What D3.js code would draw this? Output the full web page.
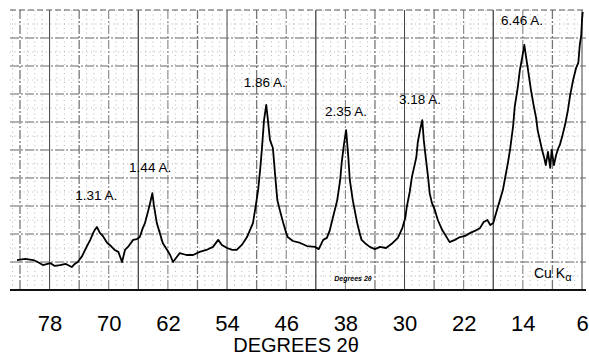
<!DOCTYPE html>
<html>
<head>
<meta charset="utf-8">
<script src="https://cdn.jsdelivr.net/npm/d3@7"></script>
<style>
  body { margin: 0; background: #fff; }
  svg { display: block; font-family: "Liberation Sans", Arial, sans-serif; }
</style>
</head>
<body>
<script>
// diffractometer trace (2-theta in degrees, intensity in grid units)
const twoTheta = [
  82.4, 81.3, 80.2, 79.6, 78.9, 77.9, 77.3, 76.6, 75.8, 75.0, 74.6, 74.2, 73.6, 73.2, 72.8, 72.5,
  72.1, 71.9, 71.6, 71.2, 70.8, 70.2, 69.7, 69.2, 68.7, 68.2, 67.8, 67.3, 66.7, 66.2, 65.8, 65.4,
  65.1, 64.7, 64.4, 64.1, 63.9, 63.5, 63.1, 62.7, 62.1, 61.7, 61.3, 60.9, 60.4, 59.5, 58.6, 57.7,
  56.8, 55.9, 55.2, 54.7, 54.0, 53.3, 52.7, 52.0, 51.3, 50.9, 50.5, 50.1, 49.8, 49.5, 49.3, 49.0,
  48.7, 48.5, 48.2, 47.8, 47.5, 47.2, 46.8, 46.4, 46.0, 45.8, 45.1, 44.1, 43.2, 42.1, 41.6, 41.0,
  40.5, 40.1, 39.7, 39.1, 38.7, 38.5, 38.2, 37.9, 37.6, 37.4, 37.0, 36.4, 36.0, 35.8, 35.2, 34.7,
  34.0, 33.3, 32.5, 31.6, 30.9, 30.3, 29.9, 29.7, 29.3, 29.0, 28.7, 28.4, 28.2, 27.9, 27.6, 27.4,
  27.2, 26.8, 26.6, 26.3, 25.9, 25.5, 24.9, 24.4, 23.9, 23.2, 22.5, 21.8, 21.1, 20.5, 19.8, 19.3,
  18.8, 18.4, 18.0, 17.5, 17.1, 16.7, 16.4, 16.0, 15.7, 15.3, 15.1, 14.7, 14.4, 14.1, 13.8, 13.6,
  13.3, 12.9, 12.6, 12.2, 12.0, 11.7, 11.4, 11.1, 10.9, 10.6, 10.3, 10.1, 9.8, 9.5, 9.2, 9.0,
  8.7, 8.3, 7.9, 7.6, 7.2, 6.8, 6.5, 6.3, 6.1, 6.0, 5.9
];
const intensity = [
  1.07, 1.11, 1.07, 1.00, 0.89, 0.96, 0.86, 0.89, 0.93, 0.82, 0.93, 1.00, 1.21, 1.43, 1.64, 1.79,
  2.04, 2.14, 2.25, 2.04, 1.93, 1.68, 1.57, 1.43, 1.36, 1.00, 1.43, 1.57, 1.79, 1.82, 1.89, 2.21,
  2.39, 2.79, 3.11, 3.46, 3.04, 2.39, 2.04, 1.68, 1.43, 1.25, 1.00, 1.14, 1.32, 1.25, 1.25, 1.36,
  1.43, 1.54, 1.79, 1.61, 1.50, 1.43, 1.43, 1.61, 1.89, 2.14, 2.39, 3.04, 3.57, 4.36, 5.00, 6.07,
  6.61, 6.14, 5.36, 5.07, 4.11, 3.21, 2.79, 2.39, 2.04, 1.89, 1.75, 1.68, 1.57, 1.54, 1.46, 1.79,
  1.86, 2.14, 2.57, 3.21, 3.93, 4.54, 5.18, 5.71, 4.75, 3.93, 3.21, 2.39, 1.96, 1.79, 1.64, 1.54,
  1.46, 1.54, 1.50, 1.68, 1.86, 2.21, 2.57, 2.96, 3.50, 4.04, 4.39, 4.75, 5.29, 5.71, 6.07, 5.36,
  4.89, 4.00, 3.46, 3.11, 2.86, 2.50, 2.14, 1.93, 1.71, 1.79, 1.89, 1.93, 2.04, 2.11, 2.21, 2.43,
  2.50, 2.32, 2.39, 2.86, 3.21, 3.57, 4.00, 4.57, 5.07, 5.89, 6.54, 7.21, 7.86, 8.29, 8.75, 8.39,
  7.86, 7.14, 6.68, 6.14, 5.71, 5.36, 5.00, 4.71, 4.46, 4.93, 4.36, 5.00, 4.46, 4.82, 5.07, 5.18,
  5.46, 5.89, 6.43, 6.96, 7.50, 7.93, 8.11, 8.75, 9.11, 9.64, 9.93
];

// peak annotations: d-spacing, where the label sits (2-theta, grid level)
const peakLabels = ["1.31 A.", "1.44 A.", "1.86 A.", "2.35 A.", "3.18 A.", "6.46 A."];
const labelTheta = [71.7, 64.4, 48.9, 37.9, 27.9, 14.1];
const labelLevel = [3.2, 4.2, 7.25, 6.2, 6.65, 9.45];

const tickValues = [78, 70, 62, 54, 46, 38, 30, 22, 14, 6];

const width = 589, height = 356;
const svg = d3.select("body").append("svg")
  .attr("width", width).attr("height", height);

const x = d3.scaleLinear().domain([82, 6]).range([20, 582]);
const y = d3.scaleLinear().domain([0, 10]).range([290, 10]);
const left = 10, right = 586;
const thetaMax = x.invert(left), thetaMin = x.invert(right);

const grid = svg.append("g");

// minor lines: every degree / half unit, dotted
grid.selectAll(".vminor")
  .data(d3.range(Math.ceil(thetaMin), Math.floor(thetaMax) + 1).filter(d => (d - 2) % 4 !== 0))
  .join("line")
  .attr("x1", d => x(d)).attr("x2", d => x(d))
  .attr("y1", y(10)).attr("y2", y(0))
  .attr("stroke", "#999").attr("stroke-width", 0.7)
  .attr("stroke-dasharray", "1,3.5");

grid.selectAll(".hminor")
  .data(d3.range(0.5, 10, 1))
  .join("line")
  .attr("x1", left).attr("x2", right)
  .attr("y1", d => y(d)).attr("y2", d => y(d))
  .attr("stroke", "#999").attr("stroke-width", 0.7)
  .attr("stroke-dasharray", "1,3.5");

// major lines: every 4 degrees / every unit
grid.selectAll(".vmajor")
  .data(d3.range(6, 83, 4))
  .join("line")
  .attr("x1", d => x(d)).attr("x2", d => x(d))
  .attr("y1", y(10)).attr("y2", y(0))
  .attr("stroke", (d, i) => i % 3 === 0 ? "#444" : "#777")
  .attr("stroke-width", (d, i) => i % 2 ? 1.3 : 1)
  .attr("stroke-dasharray", (d, i) => i % 3 === 0 ? null : "9,2,2,2");

grid.selectAll(".hmajor")
  .data(d3.range(1, 10))
  .join("line")
  .attr("x1", left).attr("x2", right)
  .attr("y1", d => y(d)).attr("y2", d => y(d))
  .attr("stroke", "#666").attr("stroke-width", 1)
  .attr("stroke-dasharray", "9,2,2,2");

grid.append("line")
  .attr("x1", left).attr("x2", right).attr("y1", y(10)).attr("y2", y(10))
  .attr("stroke", "#555").attr("stroke-width", 1).attr("stroke-dasharray", "6,3");

grid.append("line")
  .attr("x1", left).attr("x2", right).attr("y1", y(0)).attr("y2", y(0))
  .attr("stroke", "#111").attr("stroke-width", 2);

// the trace
const pts = twoTheta.map((t, i) => [t, intensity[i]]);
const line = d3.line().x(d => x(d[0])).y(d => y(d[1]));
svg.append("path")
  .datum(pts)
  .attr("d", line)
  .attr("fill", "none")
  .attr("stroke", "#000")
  .attr("stroke-width", 1.8)
  .attr("stroke-linejoin", "round");

// peak labels
svg.append("g").selectAll("text")
  .data(peakLabels)
  .join("text")
  .attr("x", (d, i) => x(labelTheta[i]))
  .attr("y", (d, i) => y(labelLevel[i]))
  .attr("text-anchor", "middle")
  .attr("font-size", 13.5)
  .attr("fill", "#000")
  .text(d => d);

// bottom axis
const axis = svg.append("g")
  .attr("transform", `translate(0,${y(0)})`)
  .call(d3.axisBottom(x).tickValues(tickValues).tickSize(0).tickPadding(25).tickFormat(d3.format("d")));
axis.select(".domain").remove();
axis.selectAll("text")
  .attr("font-size", 22)
  .attr("font-family", "Liberation Sans, Arial, sans-serif")
  .attr("fill", "#000");

svg.append("text")
  .attr("x", 296).attr("y", 352)
  .attr("text-anchor", "middle")
  .attr("font-size", 20)
  .text("DEGREES 2θ");

// small chart-paper annotations
svg.append("text")
  .attr("x", 353).attr("y", 281)
  .attr("text-anchor", "middle")
  .attr("font-size", 7).attr("font-style", "italic").attr("font-weight", "bold")
  .text("Degrees  2θ");

const cu = svg.append("text")
  .attr("x", 534).attr("y", 278)
  .attr("font-size", 14);
cu.append("tspan").text("Cu K");
cu.append("tspan").attr("dy", 3).attr("font-size", 11).text("α");
</script>
</body>
</html>
